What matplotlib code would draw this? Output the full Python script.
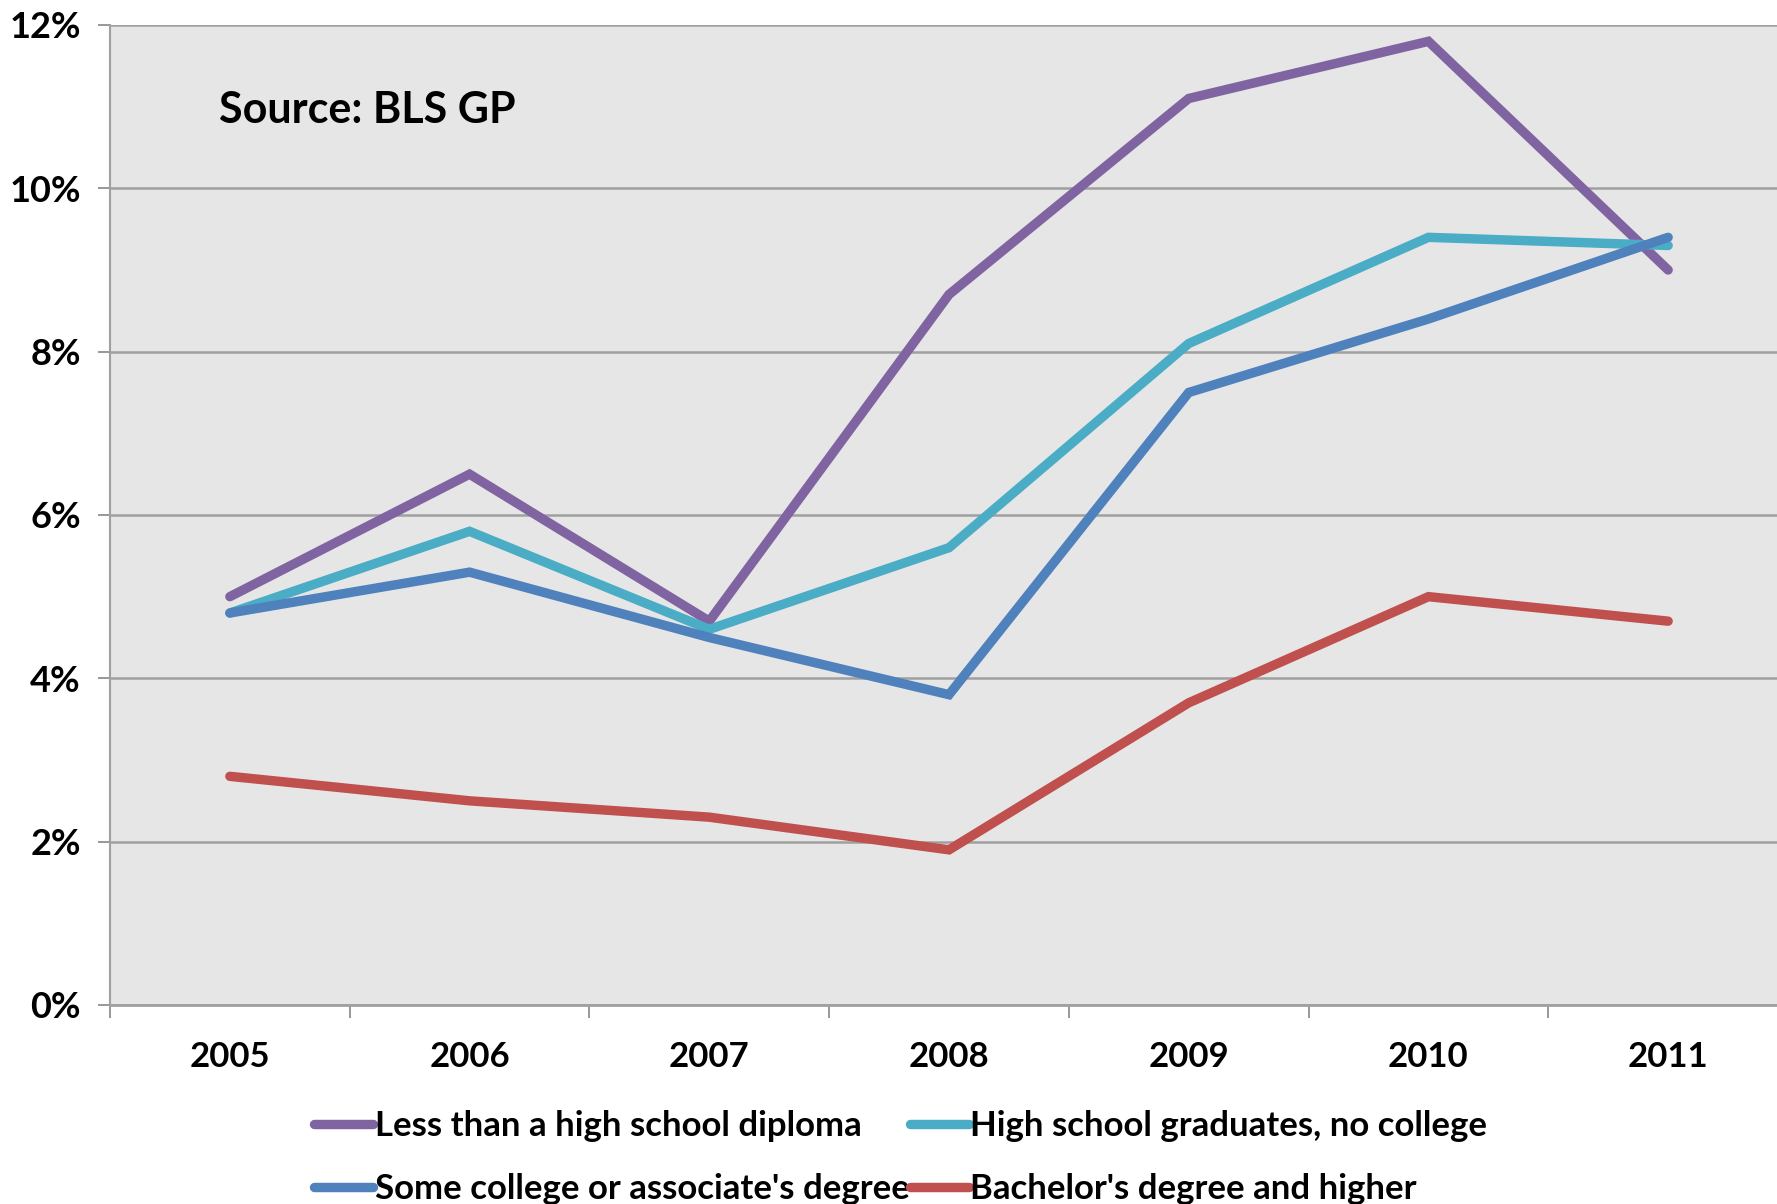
import matplotlib
matplotlib.use("Agg")
import matplotlib.pyplot as plt
from matplotlib.ticker import FixedLocator, FuncFormatter
import numpy as np

years = ["2005", "2006", "2007", "2008", "2009", "2010", "2011"]
less_than_hs = [5.0, 6.5, 4.7, 8.7, 11.1, 11.8, 9.0]
hs_grad = [4.8, 5.8, 4.6, 5.6, 8.1, 9.4, 9.3]
some_college = [4.8, 5.3, 4.5, 3.8, 7.5, 8.4, 9.4]
bachelors = [2.8, 2.5, 2.3, 1.9, 3.7, 5.0, 4.7]

series_labels = ["Less than a high school diploma", "High school graduates, no college",
                 "Some college or associate's degree", "Bachelor's degree and higher"]
colors = ["#8064a2", "#4bacc6", "#4f81bd", "#c0504d"]

plt.rcParams['font.family'] = ['Lato', 'DejaVu Sans']
plt.rcParams['font.weight'] = 'bold'

fig = plt.figure(figsize=(17.77, 12.04), dpi=100)
ax = fig.add_axes([110/1777, (1204-1005)/1204, 1678/1777, 980/1204])
ax.set_facecolor("#e6e6e6")

x = np.arange(len(years))
handles = []
for vals, lab, c in zip([less_than_hs, hs_grad, some_college, bachelors], series_labels, colors):
    h, = ax.plot(x, vals, color=c, lw=6.8, label=lab, solid_capstyle='round',
                 solid_joinstyle='miter', zorder=3)
    handles.append(h)

ax.set_xlim(-0.5, len(years) - 0.5)
ax.set_ylim(0, 12)
ax.set_yticks(np.arange(0, 13, 2))
ax.yaxis.set_major_formatter(FuncFormatter(lambda v, p: f"{int(v)}%"))
ax.grid(axis='y', color="#a0a0a0", lw=1.8, zorder=1)
ax.set_axisbelow(True)

ax.set_xticks(x)
ax.set_xticklabels(years)
ax.xaxis.set_minor_locator(FixedLocator(np.arange(-0.5, len(years), 1.0)))
ax.tick_params(axis='x', which='major', length=0, pad=26, labelsize=25)
ax.tick_params(axis='x', which='minor', length=9, width=1.3, color="#909090", direction='out')
ax.tick_params(axis='y', length=9, width=1.3, color="#909090", labelsize=26, pad=12)
for lbl in ax.get_xticklabels() + ax.get_yticklabels():
    lbl.set_fontweight('bold')

for s in ['top', 'right']:
    ax.spines[s].set_visible(False)
ax.spines['left'].set_color("#a0a0a0")
ax.spines['bottom'].set_color("#a0a0a0")
ax.spines['left'].set_linewidth(1.5)
ax.spines['bottom'].set_linewidth(2)

fig.text(219/1777, 1 - 110/1204, "Source: BLS GP", fontsize=31, fontweight='bold',
         va='center', ha='left')

leg = fig.legend(handles=[handles[0], handles[2], handles[1], handles[3]],
                 labels=[series_labels[0], series_labels[2], series_labels[1], series_labels[3]],
                 ncol=2, loc='upper left', bbox_to_anchor=(314/1777, 1 - 1110/1204),
                 frameon=False, fontsize=25, handlelength=1.7, handletextpad=0.05,
                 columnspacing=0.0, labelspacing=0.9, borderaxespad=0, borderpad=0)
for t in leg.get_texts():
    t.set_fontweight('bold')

fig.savefig("out.png", dpi=100)
